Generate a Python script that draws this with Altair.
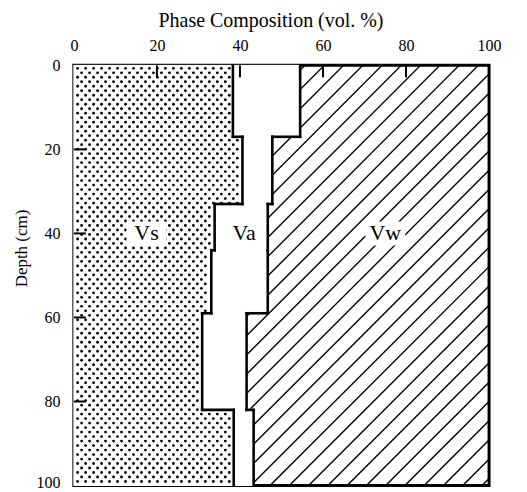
import altair as alt
import numpy as np
import pandas as pd

# ---- data ----
depth_top = [0, 17, 33, 44, 59, 82]
depth_bot = [17, 33, 44, 59, 82, 100]
vs_end = [38.3, 40.6, 33.9, 33.1, 30.9, 38.5]   # solid phase boundary (vol. %)
va_end = [54.5, 47.8, 46.7, 46.7, 41.6, 43.3]   # solid + air boundary (vol. %)
tick_values = [0, 20, 40, 60, 80, 100]
labels = ["Vs", "Va", "Vw"]
label_x = [17.5, 41, 75]
label_depth = [40, 40, 40]

# ---- styling constants ----
W, H = 416, 421
FONT = "Liberation Serif"
PX_X = W / 100.0
PX_Y = H / 100.0

layers_df = pd.DataFrame({"d0": depth_top, "d1": depth_bot, "vs": vs_end, "va": va_end})

# hatch texture (45 degree lines across the plot, later masked)
HATCH_STEP = 19.3 / PX_X
slant = 100 * PX_Y / PX_X
cs = np.arange(0, 100 + slant + HATCH_STEP, HATCH_STEP)
hatch_df = pd.DataFrame({"x": cs, "x2": cs - slant, "y": 0.0, "y2": 100.0})

# dot texture inside the Vs region
DOT_DX = 8.0 / PX_X
DOT_DY = 4.5 / PX_Y
pts = []
for i, d in enumerate(np.arange(0.7, 99.6, DOT_DY)):
    k = next(j for j in range(len(depth_top)) if depth_top[j] <= d < depth_bot[j])
    off = (i % 2) * DOT_DX / 2
    for xv in np.arange(0.9 + off, 45, DOT_DX):
        if xv < vs_end[k] - 0.6:
            pts.append((xv, d))
dots_df = pd.DataFrame(pts, columns=["x", "y"])

# boundary lines
def boundary(vals):
    rows = []
    for i in range(len(vals)):
        rows.append({"x": vals[i], "x2": vals[i], "y": depth_top[i], "y2": depth_bot[i]})
        if i > 0 and vals[i] != vals[i - 1]:
            rows.append({"x": vals[i - 1], "x2": vals[i], "y": depth_top[i], "y2": depth_top[i]})
    return rows

bound_df = pd.DataFrame(boundary(vs_end) + boundary(va_end))

inner = [v for v in tick_values if 0 < v < 100]
xt_df = pd.DataFrame({"x": inner, "x2": inner, "y": 0.0, "y2": 12 / PX_Y})
yt_df = pd.DataFrame({"x": 0.0, "x2": 12 / PX_X, "y": inner, "y2": inner})

lab_df = pd.DataFrame({"label": labels, "x": label_x, "y": label_depth})

x_scale = alt.Scale(domain=[0, 100], nice=False, zero=False)
y_scale = alt.Scale(domain=[0, 100], nice=False, zero=False, reverse=True)

x_axis = alt.Axis(orient="top", values=tick_values, ticks=False, domain=False, grid=False,
                  labelPadding=12, labelFlush=False, labelFont=FONT, labelFontSize=16,
                  labelColor="black", title="Phase Composition (vol. %)", titleFont=FONT,
                  titleFontSize=20, titleFontWeight="normal", titleColor="black",
                  titlePadding=7, titleX=197)
y_axis = alt.Axis(orient="left", values=tick_values, ticks=False, domain=False, grid=False,
                  labelPadding=14, labelFont=FONT, labelFontSize=16, labelColor="black",
                  labelOffset={"condition": {"test": "datum.value == 100", "value": -3}, "value": 0},
                  title="Depth (cm)", titleFont=FONT, titleFontSize=17,
                  titleFontWeight="normal", titleColor="black", titlePadding=5, titleY=183)


def X(f):
    return alt.X(f, type="quantitative", scale=x_scale, axis=x_axis)


def Y(f):
    return alt.Y(f, type="quantitative", scale=y_scale, axis=y_axis)


hatch = alt.Chart(hatch_df).mark_rule(clip=True, color="black", strokeWidth=1.4).encode(
    x=X("x"), x2="x2", y=Y("y"), y2="y2")

mask = alt.Chart(layers_df).mark_rect(fill="white", stroke="white", strokeWidth=1).encode(
    x=alt.X("zero:Q", scale=x_scale, axis=x_axis), x2="va", y=Y("d0"), y2="d1"
).transform_calculate(zero="0")

dots = alt.Chart(dots_df).mark_circle(color="black", size=8, opacity=1).encode(
    x=X("x"), y=Y("y"))

label_bg = alt.Chart(lab_df).mark_point(
    shape="M-1,-0.6L1,-0.6L1,0.6L-1,0.6Z", filled=True, fill="white", stroke=None,
    opacity=1, size=1600).encode(x=X("x"), y=Y("y"))

bounds = alt.Chart(bound_df).mark_rule(color="black", strokeWidth=2.6, strokeCap="square").encode(
    x=X("x"), x2="x2", y=Y("y"), y2="y2")

xticks = alt.Chart(xt_df).mark_rule(color="black", strokeWidth=2).encode(
    x=X("x"), x2="x2", y=Y("y"), y2="y2")
yticks = alt.Chart(yt_df).mark_rule(color="black", strokeWidth=2).encode(
    x=X("x"), x2="x2", y=Y("y"), y2="y2")

texts = alt.Chart(lab_df).mark_text(font=FONT, fontSize=22, color="black",
                                    align="center", baseline="middle").encode(
    x=X("x"), y=Y("y"), text="label:N")

chart = alt.layer(hatch, mask, dots, label_bg, bounds, xticks, yticks, texts).properties(
    width=W, height=H,
    autosize=alt.AutoSizeParams(type="none"),
    padding={"left": 66, "top": 57, "right": 30, "bottom": 5},
    background="white",
).configure_view(stroke="black", strokeWidth=3)

chart.save("out.html", embed_options={"renderer": "svg", "actions": False})
